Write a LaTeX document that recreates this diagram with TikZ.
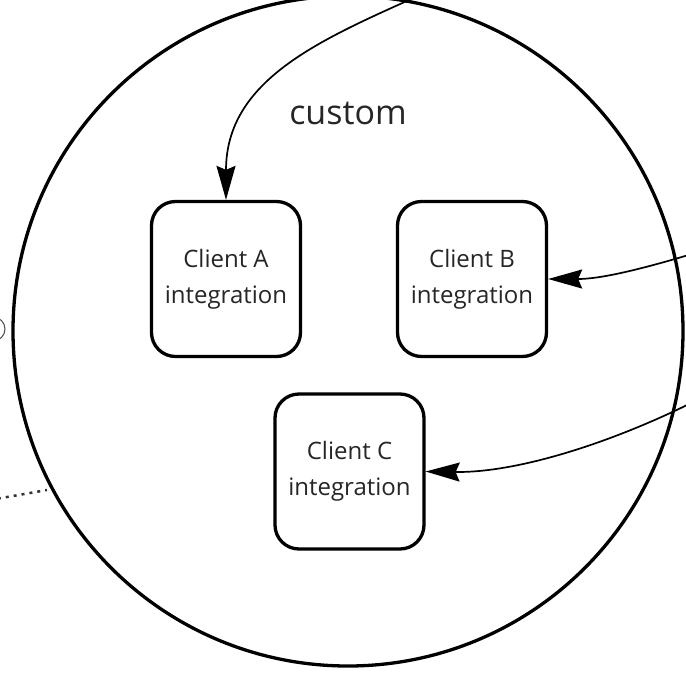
\documentclass[tikz,border=0pt]{standalone}
\usepackage{fontspec}
\setmainfont{Open Sans}
\usetikzlibrary{arrows.meta}
\begin{document}
\begin{tikzpicture}[x=1pt,y=-1pt,
  clientbox/.style={draw=black, line width=3.3pt, rounded corners=24pt, minimum width=149pt, minimum height=155pt, inner sep=0pt, align=center, text=black!85, font=\fontsize{24}{36}\selectfont},
  flow/.style={line width=1.7pt, -{Stealth[length=34pt,width=19pt,inset=4pt]}},
  ring/.style={draw=black, line width=3.3pt, circle, minimum size=670pt, inner sep=0pt}
]
\useasboundingbox (0,0) rectangle (686,689);
\clip (0,0) rectangle (686,689);
\node[ring] (big) at (348,331) {};
\node[draw=black!70, line width=1pt, circle, minimum size=24pt, inner sep=0pt] (port) at (-7,329) {};
\node[font=\fontsize{34}{40}\selectfont, text=black!85] (title) at (348,113) {custom};
\node[clientbox] (A) at (226,279) {Client A\\integration};
\node[clientbox] (B) at (472,279) {Client B\\integration};
\node[clientbox] (C) at (349.5,471.5) {Client C\\integration};
\coordinate (srcA) at (418,-4);
\coordinate (srcB) at (705,250);
\coordinate (srcC) at (705,396);
\coordinate (dotS) at (-10,500);
\coordinate (dotE) at (47,490);
\draw[flow] (srcA) .. controls (320,40) and (226,80) .. (A.north);
\draw[flow] (srcB) .. controls (640,270) and (600,279) .. (B.east);
\draw[flow] (srcC) .. controls (620,440) and (520,473) .. (C.east);
\draw[line width=2.5pt, black!80, dash pattern=on 3pt off 5pt] (dotS) -- (dotE);
\end{tikzpicture}
\end{document}
